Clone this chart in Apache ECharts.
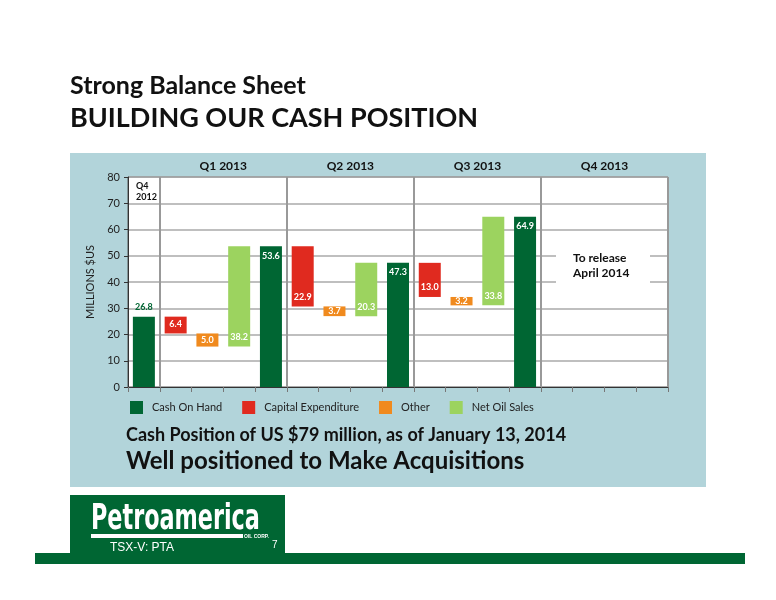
<!DOCTYPE html>
<html lang="en">
<head>
<meta charset="UTF-8">
<script src="https://cdn.jsdelivr.net/npm/echarts@6/dist/echarts.min.js"></script>
<style>
  html, body { margin: 0; padding: 0; background: #fff; }
  #main { width: 776px; height: 600px; }
</style>
</head>
<body>
<div id="main"></div>
<script>
// 17 slots: Q4 2012 cash, then per quarter: capex, other, sales, cash
var slots = ['c0','x1','o1','s1','c1','x2','o2','s2','c2','x3','o3','s3','c3','q4a','q4b','q4c','q4d'];
var cashOnHand = [26.8, '-', '-', '-', 53.6, '-', '-', '-', 47.3, '-', '-', '-', 64.9, '-', '-', '-', '-'];
var capex      = ['-', 6.4, '-', '-', '-', 22.9, '-', '-', '-', 13.0, '-', '-', '-', '-', '-', '-', '-'];
var other      = ['-', '-', 5.0, '-', '-', '-', 3.7, '-', '-', '-', 3.2, '-', '-', '-', '-', '-', '-'];
var netOilSales= ['-', '-', '-', 38.2, '-', '-', '-', 20.3, '-', '-', '-', 33.8, '-', '-', '-', '-', '-'];
var quarterLabels = ['Q1 2013', 'Q2 2013', 'Q3 2013', 'Q4 2013'];
var separators = [1, 5, 9, 13];

// floating base for waterfall: running total after decreases / before increases
var base = [];
var run = 0;
for (var i = 0; i < slots.length; i++) {
  if (cashOnHand[i] !== '-') { run = cashOnHand[i]; base.push(0); }
  else if (capex[i] !== '-') { run -= capex[i]; base.push(+run.toFixed(1)); }
  else if (other[i] !== '-') { run -= other[i]; base.push(+run.toFixed(1)); }
  else if (netOilSales[i] !== '-') { base.push(+run.toFixed(1)); run += netOilSales[i]; }
  else base.push('-');
}

var myChart = echarts.init(document.getElementById('main'));
var lbl = { show: true, color: '#fff', fontFamily: 'Lato', fontWeight: 'bold', fontSize: 9,
  formatter: function (p) { return p.value.toFixed(1); } };

var gridL = 128, gridT = 177, gridW = 540, gridH = 210, slotW = gridW / slots.length;
var graphics = [
  { type: 'rect', z: -10, shape: { x: 70, y: 153, width: 636, height: 334 }, style: { fill: '#b2d4da' } },
  { type: 'text', left: 70, top: 73, style: { text: 'Strong Balance Sheet', font: 'bold 25px Lato', fill: '#111' } },
  { type: 'text', left: 70, top: 105, style: { text: 'BUILDING OUR CASH POSITION', font: 'bold 27px Lato', fill: '#111' } },
  { type: 'text', left: 126, top: 426, style: { text: 'Cash Position of US $79 million, as of January 13, 2014', font: 'bold 18px Lato', fill: '#111' } },
  { type: 'text', left: 126, top: 449, style: { text: 'Well positioned to Make Acquisitions', font: 'bold 24px Lato', fill: '#111' } },
  { type: 'text', z: 20, left: gridL + 8, top: 181, style: { text: 'Q4\n2012', font: 'bold 9px Lato', fill: '#111', lineHeight: 11 } },
  { type: 'rect', z: 20, shape: { x: 556, y: 247, width: 94, height: 38 }, style: { fill: '#fff' } },
  { type: 'text', z: 21, left: 573, top: 251, style: { text: 'To release\nApril 2014', font: 'bold 12px Lato', fill: '#111', lineHeight: 15, align: 'center' } },
  { type: 'rect', shape: { x: 70, y: 495, width: 215, height: 62 }, style: { fill: '#006633' } },
  { type: 'rect', shape: { x: 35, y: 553, width: 710, height: 11 }, style: { fill: '#006633' } },
  { type: 'text', x: 91, y: 502, scaleX: 0.62, style: { text: 'Petroamerica', font: 'bold 36px "DejaVu Sans", sans-serif', fill: '#fff' } },
  { type: 'rect', shape: { x: 91, y: 534, width: 152, height: 4 }, style: { fill: '#fff' } },
  { type: 'text', left: 244, top: 534, style: { text: 'OIL CORP.', font: 'bold 5px "Liberation Sans", sans-serif', fill: '#fff' } },
  { type: 'text', left: 110, top: 542, style: { text: 'TSX-V: PTA', font: '12px "Liberation Sans", sans-serif', fill: '#fff' } },
  { type: 'text', left: 272, top: 540, style: { text: '7', font: '10px "Liberation Sans", sans-serif', fill: '#fff' } }
];
quarterLabels.forEach(function (q, k) {
  var cx = gridL + (separators[k] + 2) * slotW;
  graphics.push({ type: 'text', x: cx, y: 160, style: { text: q, font: 'bold 12px Lato', fill: '#111', align: 'center' } });
});

var option = {
  animation: false,
  grid: { left: gridL, top: gridT, width: gridW, height: gridH, show: true, backgroundColor: '#fff', borderColor: '#555', borderWidth: 1 },
  legend: {
    top: 396, left: 125, itemWidth: 13, itemHeight: 13, itemGap: 20, icon: 'rect',
    data: ['Cash On Hand', 'Capital Expenditure', 'Other', 'Net Oil Sales'],
    textStyle: { fontFamily: 'Lato', fontSize: 11, color: '#222', padding: [0, 0, 0, 4] }
  },
  xAxis: {
    type: 'category', data: slots,
    axisLabel: { show: false },
    axisLine: { lineStyle: { color: '#333' } },
    axisTick: { show: true, length: 5, inside: false, lineStyle: { color: '#777' } },
    splitLine: { show: true, interval: function (i) { return separators.indexOf(i) >= 0; }, lineStyle: { color: '#999', width: 2 } }
  },
  yAxis: {
    type: 'value', min: 0, max: 80, interval: 10,
    name: 'MILLIONS $US', nameLocation: 'middle', nameGap: 30, nameRotate: 90,
    nameTextStyle: { fontFamily: 'Lato', fontSize: 11, color: '#222' },
    axisLabel: { fontFamily: 'Lato', fontSize: 11, color: '#222' },
    axisLine: { show: true, lineStyle: { color: '#333' } },
    axisTick: { show: true, length: 4, lineStyle: { color: '#333' } },
    splitLine: { lineStyle: { color: '#aaa', width: 1.5 } }
  },
  series: [
    { name: 'base', type: 'bar', stack: 'w', data: base, barWidth: 22, itemStyle: { color: 'transparent' }, silent: true },
    { name: 'Cash On Hand', type: 'bar', stack: 'w', data: cashOnHand, itemStyle: { color: '#006633' },
      label: Object.assign({}, lbl, { position: 'insideTop' }) },
    { name: 'Capital Expenditure', type: 'bar', stack: 'w', data: capex, itemStyle: { color: '#e02a1f' },
      label: Object.assign({}, lbl, { position: 'insideBottom' }) },
    { name: 'Other', type: 'bar', stack: 'w', data: other, itemStyle: { color: '#f08a1e' },
      label: Object.assign({}, lbl, { position: 'inside' }) },
    { name: 'Net Oil Sales', type: 'bar', stack: 'w', data: netOilSales, itemStyle: { color: '#9cd35f' },
      label: Object.assign({}, lbl, { position: 'insideBottom' }) }
  ],
  graphic: graphics
};
// first cash label sits above the bar in dark green
option.series[1].data = cashOnHand.map(function (v, i) {
  if (i === 0) return { value: v, label: { position: 'top', color: '#006633' } };
  return v;
});
myChart.setOption(option);
</script>
</body>
</html>
